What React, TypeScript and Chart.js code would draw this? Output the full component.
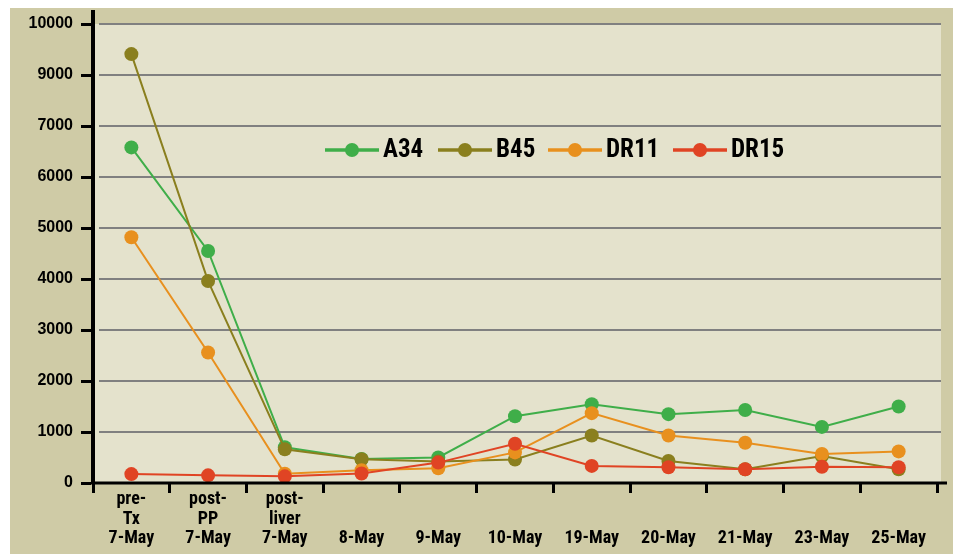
import React, { useEffect, useRef } from "react";
import { Chart, registerables } from "chart.js";

Chart.register(...registerables);

// ---- data ----
const categories: (string | string[])[] = [
  ["pre-", "Tx", "7-May"],
  ["post-", "PP", "7-May"],
  ["post-", "liver", "7-May"],
  "8-May",
  "9-May",
  "10-May",
  "19-May",
  "20-May",
  "21-May",
  "23-May",
  "25-May",
];

// values in axis units (the axis has no "8000" label: "9000" sits at 8000, "10000" at 9000)
const seriesA34 = [6580, 4550, 700, 470, 500, 1310, 1545, 1350, 1430, 1100, 1500];
const seriesB45 = [8410, 3960, 660, 465, 420, 460, 930, 430, 270, 530, 270];
const seriesDR11 = [4820, 2560, 180, 250, 290, 600, 1370, 930, 790, 570, 620];
const seriesDR15 = [175, 150, 130, 185, 400, 770, 335, 310, 270, 320, 310];

const seriesNames = ["A34", "B45", "DR11", "DR15"];
const seriesColors = ["#3fae49", "#8a7f1e", "#e8901e", "#e04424"];

const yTickLabels = ["0", "1000", "2000", "3000", "4000", "5000", "6000", "7000", "9000", "10000"];

const OUTER_BG = "#cfcba6";
const PLOT_BG = "#e4e2cc";
const NARROW = "'Roboto Condensed', 'DejaVu Sans Condensed', sans-serif";
const SANS = "'Liberation Sans', Arial, sans-serif";
const LEGEND_X = [315, 428, 538, 663];

const bgPlugin = {
  id: "bgPlugin",
  beforeDraw(chart: any) {
    const { ctx, chartArea, scales } = chart;
    ctx.save();
    ctx.fillStyle = OUTER_BG;
    ctx.fillRect(0, 0, chart.width, chart.height);
    const topY = scales.y.getPixelForValue(9000);
    ctx.fillStyle = PLOT_BG;
    ctx.fillRect(chartArea.left + 2, topY, chartArea.right + 4 - chartArea.left - 2, chartArea.bottom - topY);
    ctx.strokeStyle = "#808080";
    ctx.lineWidth = 2;
    scales.y.ticks.forEach((t: any) => {
      if (t.value === 0) return;
      const y = Math.round(scales.y.getPixelForValue(t.value));
      ctx.beginPath();
      ctx.moveTo(chartArea.left + 6, y);
      ctx.lineTo(chartArea.right + 4, y);
      ctx.stroke();
    });
    ctx.restore();
  },
  afterDraw(chart: any) {
    const { ctx, chartArea } = chart;
    ctx.save();
    ctx.strokeStyle = "#000";
    ctx.lineWidth = 3;
    ctx.beginPath();
    ctx.moveTo(chartArea.left - 2, chartArea.bottom);
    ctx.lineTo(chartArea.right + 10, chartArea.bottom);
    ctx.stroke();
    ctx.lineWidth = 4;
    ctx.beginPath();
    ctx.moveTo(chartArea.left, chartArea.top + 1);
    ctx.lineTo(chartArea.left, chartArea.top - 14);
    ctx.stroke();

    // legend (line + marker, as in the original)
    const ds = chart.data.datasets;
    ctx.font = `bold 25px ${NARROW}`;
    ctx.textBaseline = "alphabetic";
    ctx.textAlign = "left";
    const lineY = 144;
    const textBase = 151;
    ds.forEach((d: any, i: number) => {
      const x = LEGEND_X[i];
      ctx.strokeStyle = d.borderColor;
      ctx.lineWidth = 3.5;
      ctx.beginPath();
      ctx.moveTo(x, lineY);
      ctx.lineTo(x + 54, lineY);
      ctx.stroke();
      ctx.fillStyle = d.borderColor;
      ctx.beginPath();
      ctx.arc(x + 27, lineY, 7, 0, Math.PI * 2);
      ctx.fill();
      ctx.fillStyle = "#000";
      ctx.fillText(d.label, x + 58, textBase);
    });
    ctx.restore();
  },
};

export default function App() {
  const ref = useRef<HTMLCanvasElement | null>(null);
  useEffect(() => {
    if (!ref.current) return;
    const allSeries = [seriesA34, seriesB45, seriesDR11, seriesDR15];
    const labels = categories.map((c) => (Array.isArray(c) ? c : ["", "", c]));
    const chart = new Chart(ref.current, {
      type: "line",
      data: {
        labels,
        datasets: allSeries.map((s, i) => ({
          label: seriesNames[i],
          data: s,
          borderColor: seriesColors[i],
          backgroundColor: seriesColors[i],
          pointBackgroundColor: seriesColors[i],
          pointBorderWidth: 0,
          pointRadius: 7,
          pointHoverRadius: 7,
          borderWidth: 2,
          tension: 0,
          order: 3 - i,
        })),
      },
      options: {
        responsive: false,
        animation: false,
        layout: { padding: { top: 18, right: 24, left: 0, bottom: 0 } },
        plugins: {
          legend: { display: false },
          tooltip: { enabled: false },
        },
        scales: {
          x: {
            type: "category",
            offset: true,
            border: { display: false },
            grid: {
              offset: true,
              drawOnChartArea: false,
              color: "#000",
              lineWidth: 3,
              tickLength: 10,
            },
            ticks: {
              color: "#000",
              font: { family: NARROW, size: 18, weight: "bold", lineHeight: 1.08 },
              padding: -3,
              maxRotation: 0,
              autoSkip: false,
            },
            afterFit(scale: any) {
              scale.height = 71;
            },
          },
          y: {
            type: "linear",
            min: 0,
            max: 9000,
            border: { display: true, color: "#000", width: 4 },
            grid: {
              drawOnChartArea: false,
              color: "#000",
              tickColor: "#000",
              tickWidth: 3,
              tickLength: 12,
            },
            ticks: {
              stepSize: 1000,
              color: "#000",
              font: { family: SANS, size: 16, weight: "bold" },
              padding: 8,
              callback: (_v: any, i: number) => yTickLabels[i],
            },
            afterFit(scale: any) {
              scale.width = 83;
            },
          },
        },
      } as any,
      plugins: [bgPlugin],
    });
    return () => chart.destroy();
  }, []);
  return (
    <div style={{ marginLeft: 2, marginTop: -2 }}>
      <canvas ref={ref} width={951} height={548} style={{ display: "block", width: 951, height: 548 }} />
    </div>
  );
}
